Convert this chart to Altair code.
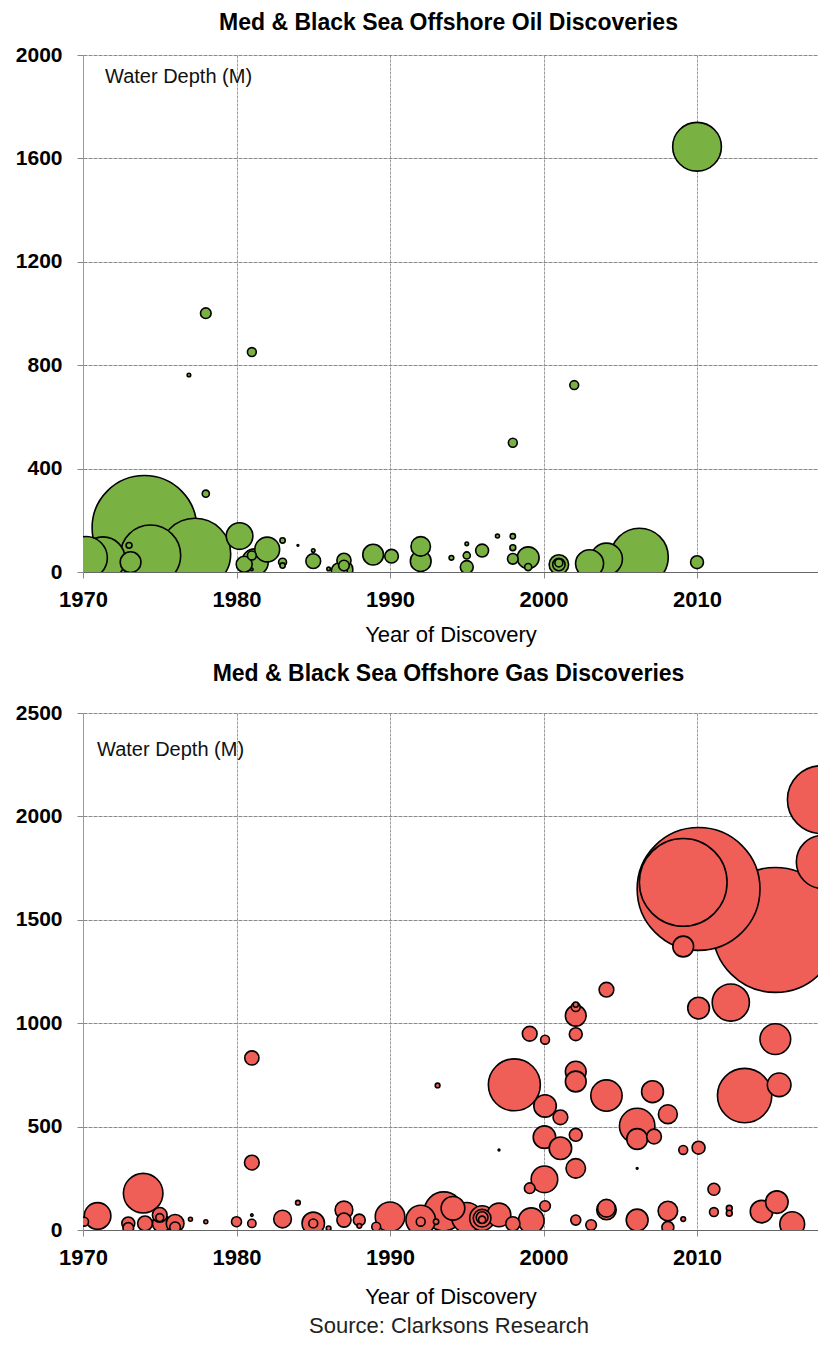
import altair as alt
import pandas as pd

# ---------------- Oil discoveries ----------------
oil_year = [1974.0, 1974.4, 1977.3, 1970.2, 1971.3, 1973.0, 1973.1, 1978.0, 1980.2, 1982.0,
            1981.2, 1981.0, 1980.5, 1981.0, 1983.0, 1983.0, 1983.0, 1984.0, 1985.0, 1985.0,
            1986.0, 1987.0, 1987.0, 1987.0, 1986.7, 1988.9, 1990.1, 1992.0, 1992.0, 1994.0,
            1995.0, 1995.0, 1995.0, 1996.0, 1997.0, 1998.0, 1998.0, 1998.0, 1998.0, 1999.0,
            1999.0, 2001.0, 2001.0, 2001.0, 2003.0, 2004.1, 2006.25, 2010.0, 2010.0, 1978.0,
            1981.0, 1976.9, 2002.0]
oil_depth = [171, 65, 70, 55, 50, 103, 38, 303, 139, 87,
             38, 64, 30, 10, 122, 38, 25, 103, 42, 83,
             12, 45, 25, 10, 5, 67, 61, 99, 42, 55,
             109, 64, 19, 83, 139, 138, 94, 51, 500, 55,
             19, 29, 29, 35, 32, 50, 58, 38, 1645, 1001,
             851, 762, 723]
oil_size = [3481, 1156, 1616, 576, 625, 11, 137, 16, 225, 196,
            225, 25, 81, 2, 9, 20, 9, 1, 69, 4,
            4, 64, 36, 100, 81, 137, 59, 121, 137, 7,
            4, 16, 53, 53, 5, 9, 11, 36, 25, 152,
            16, 121, 49, 20, 250, 324, 1056, 53, 756, 36,
            25, 4, 25]

# ---------------- Gas discoveries ----------------
gas_year = [1970.07, 1970.95, 1973.92, 1972.95, 1972.95, 1974.04, 1975.0, 1975.0, 1975.1, 1976.0,
            1976.0, 1977.0, 1978.0, 1980.0, 1981.0, 1981.0, 1981.0, 1981.0, 1983.0, 1984.0,
            1985.0, 1985.0, 1986.0, 1987.0, 1987.0, 1988.0, 1988.0, 1989.1, 1990.0, 1992.0,
            1992.0, 1993.5, 1993.0, 1994.1, 1996.0, 1996.0, 1996.0, 1996.0, 1997.1, 1999.2,
            1997.1, 2000.06, 1999.1, 2000.1, 1993.1, 1998.1, 2000.1, 2001.1, 2000.06, 2001.1,
            2002.1, 2002.1, 2002.1, 2002.1, 2002.1, 2002.1, 2002.1, 1999.1, 2000.1, 2004.1,
            2006.1, 2006.1, 2007.2, 2007.1, 2008.1, 2009.1, 2010.1, 2006.1, 2010.1, 2012.2,
            2015.1, 2013.1, 2015.35, 2011.1, 2011.1, 2012.1, 2012.1, 2014.2, 2015.2, 2016.2,
            2002.1, 2003.1, 2004.1, 2004.1, 2006.1, 2008.1, 2008.1, 2009.1, 2010.1, 2009.1,
            2009.1, 2015.1, 2018.2, 2018.1, 2004.1, 2002.1, 1995.0, 1998.0]
gas_depth = [40, 68, 178, 32, 10, 32, 73, 60, 32, 32,
             13, 52, 40, 40, 326, 832, 32, 72, 53, 132,
             32, 32, 8, 97, 48, 48, 20, 16, 64, 48,
             40, 90, 40, 105, 57, 57, 60, 50, 73, 45,
             387, 245, 202, 116, 699, 702, 600, 545, 449, 395,
             460, 298, 766, 718, 1036, 1078, 947, 949, 920, 650,
             503, 440, 452, 669, 560, 387, 398, 298, 1073, 1100,
             923, 650, 702, 197, 87, 105, 81, 89, 135, 28,
             48, 24, 97, 105, 48, 92, 13, 53, 1649, 1681,
             1371, 1451, 1780, 2081, 1162, 1090, 60, 30]
gas_size = [25, 225, 498, 53, 36, 69, 69, 20, 100, 100,
            36, 5, 5, 32, 69, 64, 22, 2, 100, 7,
            161, 25, 7, 100, 64, 45, 7, 25, 278, 278,
            25, 484, 9, 178, 196, 100, 44, 16, 178, 210,
            1, 225, 36, 36, 7, 860, 161, 69, 161, 161,
            53, 121, 137, 137, 137, 25, 53, 69, 25, 313,
            400, 137, 69, 152, 114, 25, 53, 1, 150, 440,
            300, 940, 178, 45, 25, 11, 11, 161, 161, 196,
            32, 36, 121, 100, 152, 121, 45, 7, 4802, 2450,
            137, 4970, 900, 1467, 69, 9, 289, 64]

year_ticks = [1970, 1980, 1990, 2000, 2010]
oil_ticks = [0, 400, 800, 1200, 1600, 2000]
gas_ticks = [0, 500, 1000, 1500, 2000, 2500]

FONT = "Liberation Sans"
PLOT_W = 735
PLOT_H = 517


def panel(years, depths, sizes, fill, title, ticks, label_x, label_y, title_offset,
          xtitle_pad, source=False):
    df = pd.DataFrame({"year": years, "depth": depths, "size": sizes})
    pts = alt.Chart(df).mark_circle(
        clip=True, opacity=1, color=fill, stroke="black", strokeWidth=1.6
    ).encode(
        x=alt.X("year:Q",
                scale=alt.Scale(domain=[1970, 2017.88], nice=False, zero=False),
                axis=alt.Axis(values=year_ticks, format="d", title="Year of Discovery",
                              titlePadding=xtitle_pad)),
        y=alt.Y("depth:Q",
                scale=alt.Scale(domain=[ticks[0], ticks[-1]], nice=False),
                axis=alt.Axis(values=ticks, format="d", title=None)),
        size=alt.Size("size:Q", scale=alt.Scale(domain=[0, 5000], range=[0, 15708]), legend=None),
        order=alt.Order("size:Q", sort="descending"),
    )
    lab = alt.Chart(pd.DataFrame({"t": ["Water Depth (M)"]})).mark_text(
        align="left", baseline="middle", font=FONT, fontSize=20, color="#111"
    ).encode(x=alt.value(label_x), y=alt.value(label_y), text="t:N")
    layers = [pts, lab]
    if source:
        src = alt.Chart(pd.DataFrame({"t": ["Source: Clarksons Research"]})).mark_text(
            align="center", baseline="middle", font=FONT, fontSize=22, color="#222"
        ).encode(x=alt.value(366), y=alt.value(PLOT_H + 96), text="t:N")
        layers.append(src)
    return alt.layer(*layers).properties(
        width=PLOT_W, height=PLOT_H,
        title=alt.TitleParams(title, font=FONT, fontSize=23, fontWeight="bold",
                              color="black", anchor="middle", dx=-2, offset=title_offset),
    )


oil = panel(oil_year, oil_depth, oil_size, "#79b243",
            "Med & Black Sea Offshore Oil Discoveries", oil_ticks, 22, 22, 9, 14)
gas = panel(gas_year, gas_depth, gas_size, "#ef5f57",
            "Med & Black Sea Offshore Gas Discoveries", gas_ticks, 14, 37, 16, 18, source=True)

chart = alt.vconcat(oil, gas, spacing=18).properties(
    padding={"left": 7, "right": 0, "top": 4, "bottom": 0}
).configure_view(strokeWidth=0).configure_axis(
    labelFont=FONT, titleFont=FONT, labelColor="black", titleColor="black",
    labelFontWeight="bold",
).configure_axisX(
    labelFontSize=22, titleFontSize=22, titleFontWeight="normal",
    tickSize=6, labelPadding=11, labelFlush=False,
    grid=True, gridColor="#9a9a9a", gridDash=[3, 1], gridWidth=1,
    domainColor="#666", tickColor="#888",
).configure_axisY(
    labelFontSize=21, tickSize=6, labelPadding=15,
    grid=True, gridColor="#8a8a8a", gridDash=[4, 1], gridWidth=1,
    domainColor="#999", tickColor="#888",
)

chart.save("out.html", embed_options={"renderer": "svg", "actions": False})
